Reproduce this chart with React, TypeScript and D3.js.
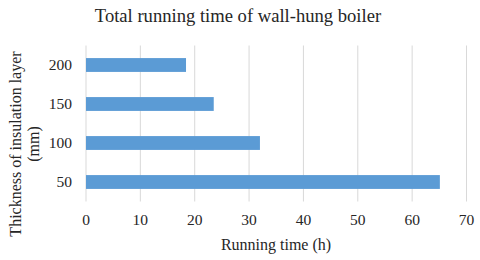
import React from "react";
import * as d3 from "d3";

const categories = ["50", "100", "150", "200"];
const values = [65.1, 32.0, 23.5, 18.4];
const xTicks = [0, 10, 20, 30, 40, 50, 60, 70];
const title = "Total running time of wall-hung boiler";
const xTitle = "Running time (h)";
const yTitleLines = ["Thickness of insulation layer", "(mm)"];

export default function App() {
  const W = 480, H = 260;
  const left = 86, right = 466.5, top = 45.5, bottom = 201.5;
  const x = d3.scaleLinear().domain([0, 70]).range([left, right]);
  const y = d3.scaleBand().domain([...categories].reverse()).range([top, bottom]).paddingInner(0.645).paddingOuter(0.3225);
  const font = '"Liberation Serif", "DejaVu Serif", serif';
  const txt = "#262626";
  return (
    <svg width={W} height={H} style={{ position: "absolute", left: 0, top: 0, background: "#fff", fontFamily: font }}>
      <text x={238} y={21.5} textAnchor="middle" fontSize={18.6} fill={txt} style={{ fontFamily: font }}>{title}</text>
      {xTicks.map((t) => (
        <line key={t} x1={x(t)} x2={x(t)} y1={top} y2={bottom} stroke="#d9d9d9" strokeWidth={1} />
      ))}
      {categories.map((c, i) => (
        <rect key={c} x={x(0)} y={y(c)} width={x(values[i]) - x(0)} height={y.bandwidth()} fill="#5b9bd5" />
      ))}
      {xTicks.map((t) => (
        <text key={"l" + t} x={x(t)} y={225} textAnchor="middle" fontSize={15.5} fill={txt} style={{ fontFamily: font }}>{t}</text>
      ))}
      {categories.map((c) => (
        <text key={"c" + c} x={72} y={(y(c) as number) + y.bandwidth() / 2 + 5} textAnchor="end" fontSize={15.5} fill={txt} style={{ fontFamily: font }}>{c}</text>
      ))}
      <text x={276} y={250} textAnchor="middle" fontSize={16} fill={txt} style={{ fontFamily: font }}>{xTitle}</text>
      <g transform={`translate(21, 144) rotate(-90)`}>
        <text x={0} y={0} textAnchor="middle" fontSize={16} fill={txt} style={{ fontFamily: font }}>{yTitleLines[0]}</text>
        <text x={0} y={18} textAnchor="middle" fontSize={16} fill={txt} style={{ fontFamily: font }}>{yTitleLines[1]}</text>
      </g>
    </svg>
  );
}
